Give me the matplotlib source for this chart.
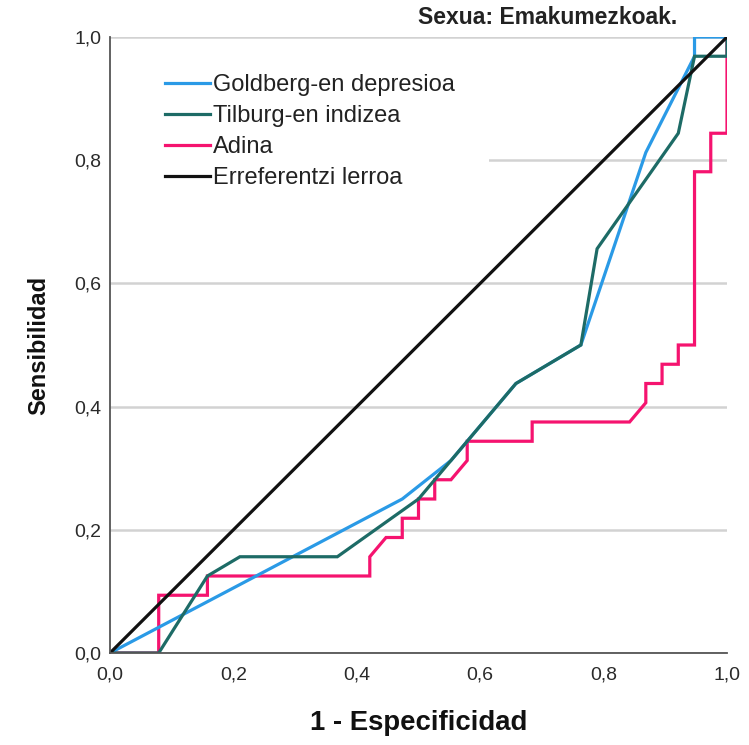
"""
ROC curve, Sexua: Emakumezkoak.
"""
import matplotlib
matplotlib.use("Agg")
import matplotlib.pyplot as plt
from matplotlib.patches import Rectangle
from matplotlib.ticker import FuncFormatter

# 38 negatives, 32 positives -> coordinates as counts
n_neg = 38
n_pos = 32

goldberg_fp = [0, 18, 21, 22, 25, 29, 33, 36, 36, 38]
goldberg_tp = [0, 8, 10, 11, 14, 16, 26, 31, 32, 32]

tilburg_fp = [0, 3, 6, 8, 14, 19, 21, 22, 25, 29, 30, 35, 36, 38, 38]
tilburg_tp = [0, 0, 4, 5, 5, 8, 10, 11, 14, 16, 21, 27, 31, 31, 32]

adina_fp = [0, 3, 3, 6, 6, 16, 16, 17, 18, 18, 19, 19, 20, 20, 21, 22, 22,
            26, 26, 32, 33, 33, 34, 34, 35, 35, 36, 36, 37, 37, 38, 38, 38]
adina_tp = [0, 0, 3, 3, 4, 4, 5, 6, 6, 7, 7, 8, 8, 9, 9, 10, 11,
            11, 12, 12, 13, 14, 14, 15, 15, 16, 16, 25, 25, 27, 27, 31, 32]

ref_x = [0, 1]
ref_y = [0, 1]

labels = ["Goldberg-en depresioa", "Tilburg-en indizea", "Adina", "Erreferentzi lerroa"]
colors = ["#2a9ae6", "#1d6b66", "#f5136f", "#111111"]

plt.rcParams["font.family"] = ["Liberation Sans", "DejaVu Sans"]

fig = plt.figure(figsize=(7.49, 7.45), dpi=100)
ax = fig.add_axes([110 / 749, 92 / 745, 617 / 749, 616 / 745])

def scale(fp, tp):
    return [v / n_neg for v in fp], [v / n_pos for v in tp]

gx, gy = scale(goldberg_fp, goldberg_tp)
tx, ty = scale(tilburg_fp, tilburg_tp)
ax_, ay = scale(adina_fp, adina_tp)

h_adina, = ax.plot(ax_, ay, color=colors[2], lw=2.3, zorder=3, solid_joinstyle="miter")
h_gold, = ax.plot(gx, gy, color=colors[0], lw=2.3, zorder=4, solid_joinstyle="miter")
h_tilb, = ax.plot(tx, ty, color=colors[1], lw=2.3, zorder=5, solid_joinstyle="miter")
h_ref, = ax.plot(ref_x, ref_y, color=colors[3], lw=2.3, zorder=6)

ax.set_xlim(0, 1)
ax.set_ylim(0, 1)
ax.set_xticks([0, 0.2, 0.4, 0.6, 0.8, 1.0])
ax.set_yticks([0, 0.2, 0.4, 0.6, 0.8, 1.0])
comma = FuncFormatter(lambda v, p: f"{v:.1f}".replace(".", ","))
ax.xaxis.set_major_formatter(comma)
ax.yaxis.set_major_formatter(comma)
ax.tick_params(axis="both", length=0, labelsize=14, colors="#2a2a2a")
ax.tick_params(axis="x", pad=10)
ax.tick_params(axis="y", pad=6)

ax.yaxis.grid(True, color="#d2d2d2", lw=1.8)
ax.set_axisbelow(True)
for side in ["top", "right"]:
    ax.spines[side].set_visible(False)
for side in ["left", "bottom"]:
    ax.spines[side].set_color("#555555")
    ax.spines[side].set_linewidth(1.3)
    ax.spines[side].set_zorder(7)

# legend background box hides the gridline behind it
ax.add_patch(Rectangle((0, 0.74), 0.614, 0.225, transform=ax.transAxes,
                       facecolor="white", edgecolor="none", zorder=2))
leg = ax.legend([h_gold, h_tilb, h_adina, h_ref], labels, loc="upper left",
                bbox_to_anchor=(0.089, 0.94), frameon=False, fontsize=17,
                handlelength=1.9, handletextpad=0.15, labelspacing=0.38,
                borderpad=0, borderaxespad=0)
for t in leg.get_texts():
    t.set_color("#222222")

ax.set_xlabel("1 - Especificidad", fontsize=19.8, fontweight="bold", color="#111111")
ax.set_ylabel("Sensibilidad", fontsize=17, fontweight="bold", color="#111111")
ax.xaxis.set_label_coords(0.5, -0.093)
ax.yaxis.set_label_coords(-0.097, 0.5)

fig.text(677 / 749, 1 - 18 / 745, "Sexua: Emakumezkoak.", ha="right", va="center",
         fontsize=16.5, fontweight="bold", color="#222222")

fig.savefig("out.png", dpi=100)
